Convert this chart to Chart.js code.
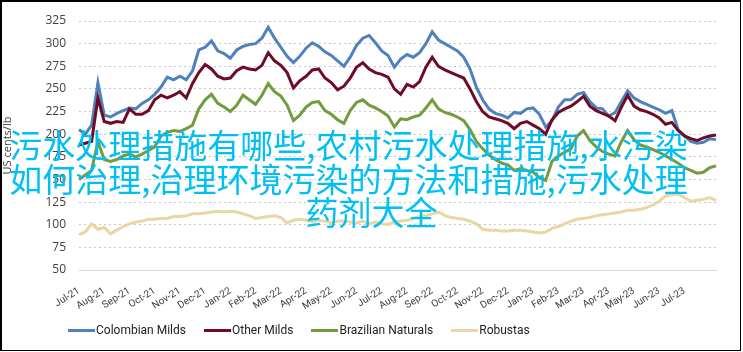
<!DOCTYPE html>
<html>
<head>
<meta charset="utf-8">
<script src="https://cdn.jsdelivr.net/npm/chart.js@4.4.0/dist/chart.umd.min.js"></script>
<style>
  html, body { margin: 0; padding: 0; background: #fff; }
  #wrap { position: relative; width: 743px; height: 352px; overflow: hidden; }
  #chart { position: absolute; left: 0; top: 0; }
  #frame {
    position: absolute; left: 0; top: 0; width: 741px; height: 351px;
    box-sizing: border-box; border: solid #000; border-width: 2px 1px 1px 2px;
    pointer-events: none;
  }
  .legend {
    position: absolute; left: 68px; top: 323px; display: flex; gap: 18px;
    font: 12px Roboto, sans-serif; color: #222;
  }
  .legend .item { display: flex; align-items: center; }
  .legend i { display: inline-block; width: 27px; height: 3px; margin-right: 1px; }
  .overlay {
    position: absolute; left: 0; top: 128px; width: 697px;
    font: 33px/33.5px 'Noto Sans CJK SC', sans-serif; color: #00bff3;
    text-align: center; white-space: nowrap;
  }
  .overlay .l3 { padding-left: 46px; }
</style>
</head>
<body>
<div id="wrap">
  <canvas id="chart" width="743" height="352"></canvas>
  <div class="legend" id="legend"></div>
  <div class="overlay">
    <div>污水处理措施有哪些,农村污水处理措施,水污染</div>
    <div>如何治理,治理环境污染的方法和措施,污水处理</div>
    <div class="l3">药剂大全</div>
  </div>
  <div id="frame"></div>
</div>
<script>
// month tick labels, one every 4 points (about weekly values)
const months = ['Jul-21', 'Aug-21', 'Sep-21', 'Oct-21', 'Nov-21', 'Dec-21', 'Jan-22', 'Feb-22',
  'Mar-22', 'Apr-22', 'May-22', 'Jun-22', 'Jul-22', 'Aug-22', 'Sep-22', 'Oct-22', 'Nov-22',
  'Dec-22', 'Jan-23', 'Feb-23', 'Mar-23', 'Apr-23', 'May-23', 'Jun-23', 'Jul-23'];
const pointsPerMonth = 4;

const colombianMilds = [
  205, 200, 210, 257, 221, 219, 223, 226, 229, 228,
  234, 238, 244, 252, 263, 260, 264, 260, 270, 293,
  296, 303, 292, 289, 284, 293, 297, 299, 300, 306,
  318, 306, 296, 286, 279, 286, 295, 301, 297, 291,
  287, 281, 275, 285, 298, 306, 309, 301, 292, 287,
  274, 283, 288, 285, 290, 300, 313, 304, 300, 296,
  292, 285, 272, 252, 238, 228, 223, 221, 218, 224,
  223, 228, 229, 222, 208, 215, 230, 238, 238, 244,
  246, 236, 229, 228, 220, 224, 236, 248, 240, 236,
  233, 230, 227, 223, 226, 205, 198, 192, 190, 191,
  195, 194];
const otherMilds = [
  188, 190, 192, 240, 214, 212, 214, 213, 228, 222,
  222, 226, 238, 243, 240, 243, 247, 240, 256, 268,
  277, 272, 264, 261, 262, 270, 274, 272, 271, 276,
  290, 281, 276, 268, 251, 259, 264, 271, 272, 262,
  257, 249, 253, 262, 274, 279, 272, 268, 266, 263,
  250, 244, 255, 252, 258, 274, 285, 275, 271, 268,
  265, 262, 250, 236, 225, 219, 217, 215, 212, 206,
  212, 214, 210, 206, 200, 216, 224, 228, 231, 236,
  242, 231, 226, 223, 220, 215, 230, 243, 231, 227,
  225, 222, 218, 211, 213, 204, 198, 195, 193, 196,
  198, 199];
const brazilianNaturals = [
  150, 155, 160, 192, 172, 170, 172, 176, 178, 175,
  178, 182, 186, 198, 202, 204, 203, 206, 210, 228,
  238, 244, 234, 230, 225, 232, 243, 238, 233, 243,
  256, 247, 242, 232, 215, 221, 230, 235, 236, 226,
  222, 216, 212, 226, 235, 238, 232, 229, 225, 220,
  208, 217, 216, 219, 221, 229, 238, 228, 224, 222,
  219, 215, 205, 192, 184, 177, 172, 168, 166, 160,
  162, 160, 158, 152, 149, 170, 176, 180, 184, 198,
  204, 193, 186, 181, 178, 176, 192, 204, 194, 188,
  186, 183, 180, 176, 172, 168, 163, 160, 157, 158,
  163, 165];
const robustas = [
  89, 92, 101, 95, 97, 90, 94, 98, 101, 103,
  104, 106, 106, 107, 107, 109, 109, 110, 112, 112,
  113, 114, 115, 114, 115, 114, 112, 110, 107, 108,
  109, 110, 108, 102, 105, 106, 105, 103, 105, 104,
  102, 104, 104, 103, 102, 104, 101, 103, 101, 100,
  103, 104, 105, 107, 109, 110, 112, 114, 110, 108,
  107, 106, 104, 101, 95, 94, 94, 93, 93, 94,
  94, 93, 92, 91, 92, 96, 98, 101, 104, 106,
  107, 108, 110, 111, 112, 113, 114, 116, 116, 117,
  119, 122, 126, 132, 133, 134, 130, 126, 127, 128,
  130, 127];

const series = [
  { label: 'Colombian Milds', data: colombianMilds, color: '#4f81bd' },
  { label: 'Other Milds', data: otherMilds, color: '#6e0b27' },
  { label: 'Brazilian Naturals', data: brazilianNaturals, color: '#739c3e' },
  { label: 'Robustas', data: robustas, color: '#ead6a4' },
];

const labels = colombianMilds.map((_, i) =>
  (i % pointsPerMonth === 0 ? (months[i / pointsPerMonth] || '') : ''));

new Chart(document.getElementById('chart'), {
  type: 'line',
  data: {
    labels,
    datasets: series.map((s, idx) => ({
      label: s.label,
      data: s.data,
      borderColor: s.color,
      backgroundColor: s.color,
      borderWidth: 3,
      pointRadius: 0,
      tension: 0,
      order: series.length - idx, // later series on top, like the original
    })),
  },
  options: {
    responsive: false,
    animation: false,
    layout: { padding: { left: 0, top: 21, right: 27, bottom: 42 } },
    plugins: { legend: { display: false }, tooltip: { enabled: false } },
    scales: {
      x: {
        type: 'category',
        offset: false,
        grid: { display: false },
        border: { display: true, color: '#d9d9d9', width: 1 },
        ticks: {
          autoSkip: false, minRotation: 32, maxRotation: 32,
          font: { family: 'Roboto, sans-serif', size: 10 }, color: '#404040', padding: 7,
        },
        afterFit: (scale) => { scale.height = 40; },
      },
      y: {
        min: 50,
        max: 325,
        grid: { color: '#c8c8c8', lineWidth: 1, drawTicks: false },
        border: {
          display: false,
          dash: (ctx) => (ctx.tick && ctx.tick.value === 50 ? [] : [2, 3]),
        },
        ticks: { stepSize: 25, font: { family: "'Open Sans', sans-serif", size: 12 }, color: '#404040', padding: 13 },
        title: {
          display: true, text: 'US cents/lb', color: '#404040',
          font: { family: "'Open Sans', sans-serif", size: 11 }, padding: { top: 1, bottom: 0 },
        },
        afterFit: (scale) => { scale.width = 79; },
      },
    },
  },
});

// html legend, left aligned as in the original
const legend = document.getElementById('legend');
series.forEach((s) => {
  const item = document.createElement('span');
  item.className = 'item';
  item.innerHTML = `<i style="background:${s.color}"></i>${s.label}`;
  legend.appendChild(item);
});
</script>
</body>
</html>
